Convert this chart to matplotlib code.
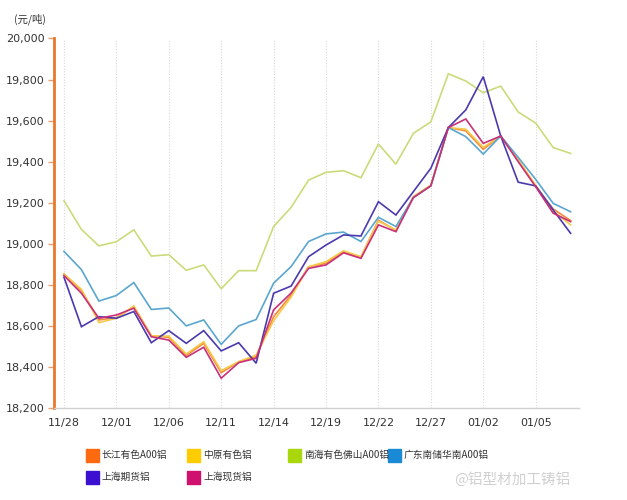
import numpy as np
import matplotlib
matplotlib.use("Agg")
import matplotlib.pyplot as plt
from matplotlib.patches import Rectangle

plt.rcParams['font.family'] = ['DejaVu Sans', 'Noto Sans CJK SC']

series_names = ["长江有色A00铝", "中原有色铝", "南海有色佛山A00铝", "广东南储华南A00铝", "上海期货铝", "上海现货铝"]
legend_colors = ["#ff6a10", "#ffcc00", "#a8d80c", "#1a8ad4", "#3b10d0", "#d0106e"]
line_colors = ["#f38a3c", "#f7c94a", "#cbdb7a", "#5aa6cf", "#4a3aae", "#c9307a"]

changjiang = [18853, 18772, 18629, 18640, 18694, 18552, 18544, 18456, 18515, 18372,
              18424, 18450, 18645, 18750, 18888, 18905, 18960, 18935, 19115, 19065,
              19228, 19284, 19566, 19550, 19460, 19525, 19405, 19280, 19170, 19113]
zhongyuan = [18853, 18778, 18616, 18637, 18697, 18552, 18550, 18463, 18523, 18382,
             18426, 18458, 18625, 18740, 18888, 18913, 18966, 18937, 19110, 19067,
             19230, 19286, 19566, 19558, 19470, 19525, 19410, 19285, 19160, 19092]
nanhai = [19210, 19070, 18990, 19010, 19068, 18940, 18947, 18871, 18897, 18781,
          18869, 18869, 19084, 19177, 19310, 19348, 19356, 19322, 19486, 19388,
          19538, 19594, 19828, 19793, 19736, 19768, 19642, 19588, 19469, 19440]
guangdong = [18963, 18874, 18721, 18748, 18811, 18680, 18687, 18600, 18629, 18510,
             18600, 18631, 18808, 18889, 19011, 19048, 19057, 19011, 19129, 19084,
             19225, 19282, 19566, 19522, 19437, 19525, 19421, 19314, 19197, 19156]
shfe = [18837, 18596, 18645, 18637, 18670, 18518, 18577, 18515, 18577, 18478,
        18518, 18418, 18759, 18794, 18937, 18994, 19043, 19038, 19205, 19140,
        19254, 19368, 19566, 19652, 19814, 19525, 19300, 19282, 19165, 19051]
shspot = [18845, 18759, 18637, 18653, 18686, 18547, 18531, 18447, 18496, 18345,
          18421, 18442, 18678, 18760, 18880, 18897, 18956, 18929, 19092, 19059,
          19225, 19282, 19566, 19608, 19489, 19525, 19400, 19278, 19149, 19108]

tick_labels = ["11/28", "12/01", "12/06", "12/11", "12/14", "12/19", "12/22", "12/27", "01/02", "01/05"]
y_ticks = [18200, 18400, 18600, 18800, 19000, 19200, 19400, 19600, 19800, 20000]

all_series = [changjiang, zhongyuan, nanhai, guangdong, shfe, shspot]

W, H = 627, 500
fig = plt.figure(figsize=(W / 100, H / 100), dpi=100)
ax = fig.add_axes([54 / W, 1 - 408 / H, (579 - 54) / W, (408 - 38.5) / H])

x = np.arange(len(nanhai))
for vals, c in zip(all_series, line_colors):
    ax.plot(x, vals, color=c, lw=1.2, solid_joinstyle='miter')

ax.set_xlim(-0.57, 29.48)
ax.set_ylim(18200, 20000)
tick_pos = np.arange(0, len(x), 3)[:len(tick_labels)]
ax.set_xticks(tick_pos)
ax.set_xticklabels(tick_labels, fontsize=8, color="#333333")
ax.set_yticks(y_ticks)
ax.set_yticklabels([f"{v:,}" for v in y_ticks], fontsize=8, color="#333333")
ax.tick_params(axis='x', length=0, pad=7)
ax.tick_params(axis='y', length=4, width=1, color="#e8a070", pad=3)
ax.grid(axis='x', color="#d8d8d8", lw=0.8, ls=(0, (1, 1.5)))
ax.set_axisbelow(True)
for s in ["top", "right"]:
    ax.spines[s].set_visible(False)
ax.spines["left"].set_color("#e87a2a")
ax.spines["left"].set_linewidth(2)
ax.spines["bottom"].set_color("#d0d0d0")
ax.spines["bottom"].set_linewidth(1)

fig.text(14 / W, 1 - 19 / H, "(元/吨)", fontsize=7.5, color="#333333",
         family=['Noto Sans CJK SC', 'DejaVu Sans'], va='center', ha='left')

# legend
sq = 13
positions = [(86, 455), (187, 455), (288, 455), (388, 455), (86, 477), (187, 477)]
for (px, py), name, col in zip(positions, series_names, legend_colors):
    fig.patches.append(Rectangle((px / W, 1 - (py + sq / 2) / H), sq / W, sq / H,
                                 transform=fig.transFigure, color=col, figure=fig))
    fig.text((px + sq + 3) / W, 1 - py / H, name, fontsize=7, color="#333333",
             family=['Noto Sans CJK SC', 'DejaVu Sans'], va='center', ha='left')

fig.text(570 / W, 1 - 479 / H, "@铝型材加工铸铝", fontsize=10.5, color="#d0d0d0",
         family=['Noto Sans CJK SC', 'DejaVu Sans'], va='center', ha='right')

fig.savefig("out.png", dpi=100)
